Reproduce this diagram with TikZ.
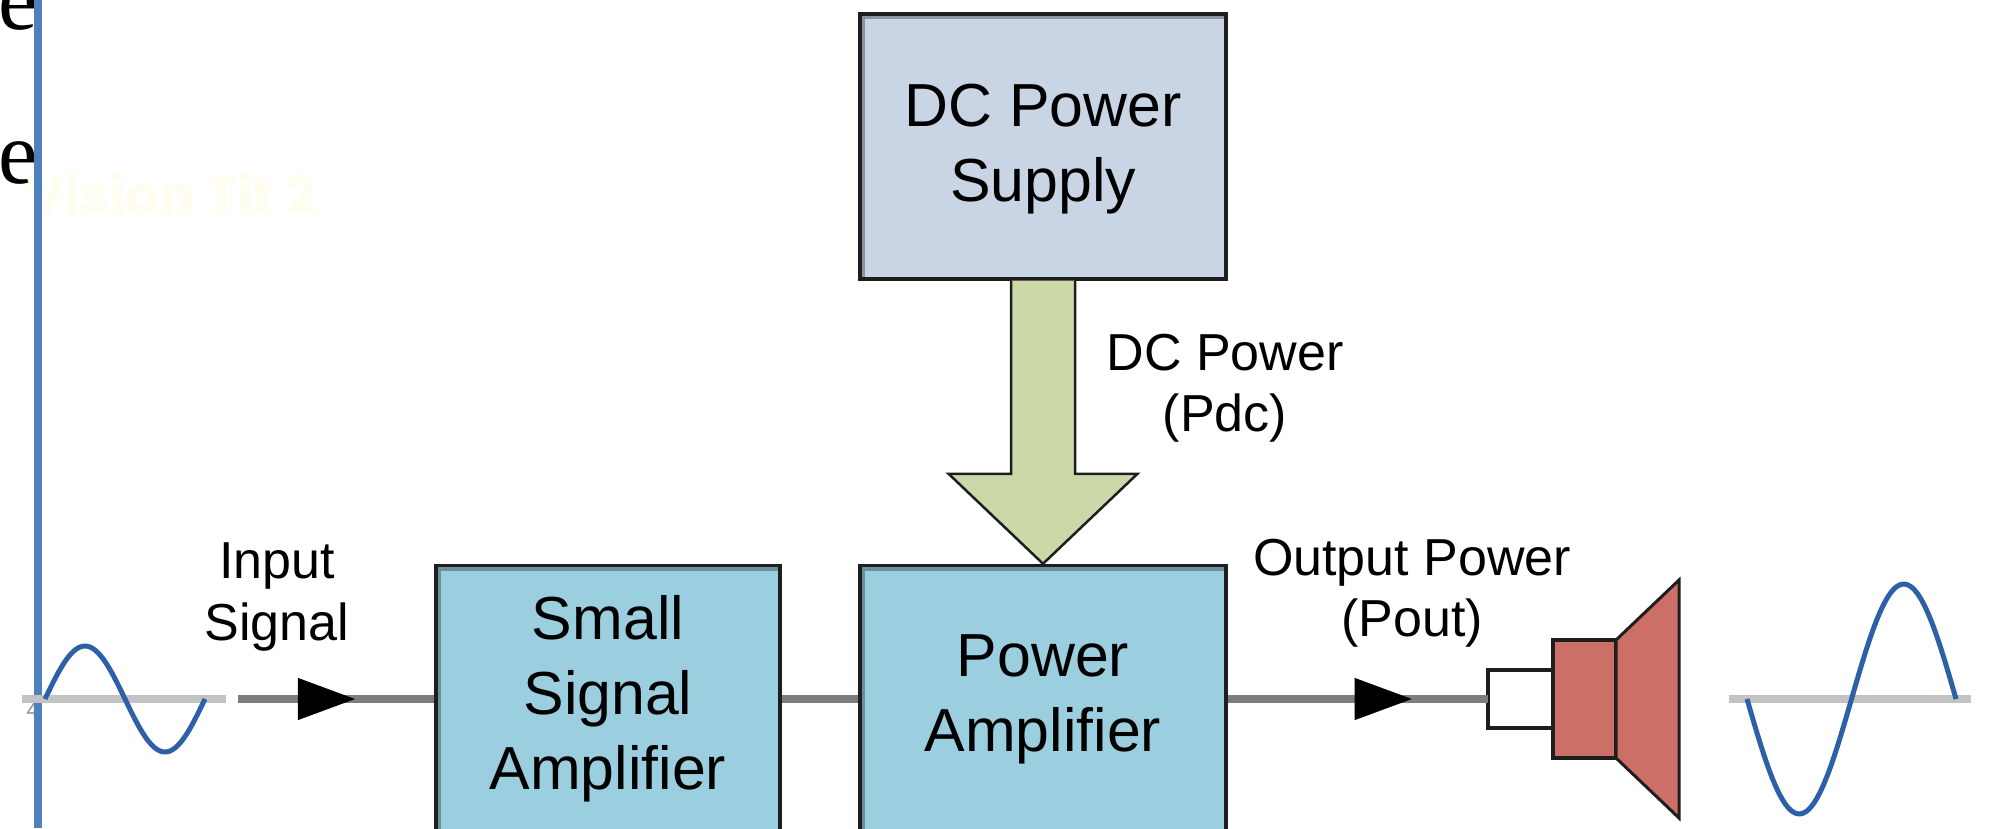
\documentclass[tikz,border=0pt]{standalone}
\usepackage{xcolor}
\usepackage{fontspec}
\setmainfont{Liberation Sans}
\newfontfamily\serifpart{Liberation Serif}
\newfontfamily\visionfont{Poppins}
\usepackage{tikz}
\usetikzlibrary{arrows.meta, positioning, calc, decorations.markings}
\definecolor{myblue}{RGB}{79,129,189}
\definecolor{mysine}{RGB}{46,96,168}
\definecolor{myaxis}{RGB}{195,195,195}
\definecolor{mywire}{RGB}{125,125,125}
\definecolor{myedge}{RGB}{30,30,30}
\definecolor{hdrsupply}{RGB}{201,213,229}
\definecolor{hdramp}{RGB}{155,207,223}
\definecolor{hdrpower}{RGB}{203,217,169}
\definecolor{hdrspeaker}{RGB}{204,111,102}
\definecolor{hdrvision}{RGB}{255,252,240}
\tikzset{
  block/.style={rectangle, draw=myedge, line width=0.35mm, inner sep=0pt,
    align=center, font=\fontsize{17.3}{21.3}\selectfont,
    path picture={\draw[black, opacity=0.3, line width=1mm]
      (path picture bounding box.south west) -- (path picture bounding box.north west)
      -- (path picture bounding box.north east);}},
  amp/.style={block, fill=hdramp, minimum height=2.67cm},
  tag/.style={align=center, inner sep=0pt, font=\fontsize{14.8}{17.5}\selectfont},
  wire/.style={color=mywire, line width=0.8mm},
  midarrow/.style={postaction={decorate, decoration={markings,
    mark=at position #1 with {\arrow[black]{Triangle[length=5.8mm,width=4mm]}}}}},
  axisline/.style={color=myaxis, line width=0.8mm},
  sine/.style={color=mysine, line width=0.5mm, line join=round},
  speaker/.style={rectangle, draw=myedge, line width=0.35mm, inner sep=0pt, outer sep=0pt},
  stray/.style={anchor=base west, inner sep=0pt, font=\serifpart\fontsize{25.3}{30}\selectfont}
}
\begin{document}
\begin{tikzpicture}
  \useasboundingbox (0,0) rectangle (19.9,8.28);
  \clip (0,0) rectangle (19.9,8.28);
  % page leftovers
  \node[stray] (ea) at (-0.02,7.98) {e};
  \node[stray] (eb) at (-0.02,6.44) {e};
  \node[anchor=base west, inner sep=0pt, text=hdrvision, font=\visionfont\bfseries\fontsize{15}{18}\selectfont]
    (vision) at (0.26,6.14) {Vision Tit 2};
  \node[anchor=base west, inner sep=0pt, text=black!45, font=\fontsize{6}{7}\selectfont]
    (stray4) at (0.26,1.11) {4};
  \draw[myblue, line width=0.8mm] (0.38,0) -- (0.38,8.28);
  % blocks
  \node[block, fill=hdrsupply, minimum width=3.66cm, minimum height=2.65cm, text depth=0.8mm] (dcsupply) at (10.43,6.815) {DC Power\\Supply};
  \node[amp, minimum width=3.44cm] (smallamp) at (6.08,1.29) {Small\\Signal\\Amplifier};
  \node[amp, minimum width=3.66cm] (poweramp) at (10.43,1.29) {Power\\Amplifier};
  % DC power arrow
  \draw[draw=myedge, line width=0.25mm, fill=hdrpower, line join=miter]
    ($(dcsupply.south)+(-0.32,0)$) -- ++(0,-1.93) -- ++(-0.625,0)
    -- (poweramp.north) -- ($(dcsupply.south)+(0.945,-1.93)$) -- ++(-0.625,0)
    -- ($(dcsupply.south)+(0.32,0)$);
  \node[tag] (dclabel) at (12.25,4.40) {DC Power\\(Pdc)};
  % input side
  \coordinate (axisa) at (0.22,1.29);
  \coordinate (axisb) at (2.26,1.29);
  \coordinate (wirein) at (2.38,1.29);
  \draw[axisline] (axisa) -- (axisb);
  \draw[sine] plot[domain=0:360, samples=61, smooth] ({0.45+\x*1.6/360}, {1.29+0.53*sin(\x)});
  \node[tag] (inlabel) at (2.77,2.31) {Input\\Signal};
  \draw[wire, midarrow=0.60] (wirein) -- (smallamp);
  \draw[wire] (smallamp) -- (poweramp);
  % output side
  \node[speaker, fill=white, minimum width=0.65cm, minimum height=0.58cm] (coil) at (15.205,1.29) {};
  \node[speaker, fill=hdrspeaker, minimum width=0.63cm, minimum height=1.18cm, right=0pt of coil] (magnet) {};
  \draw[draw=myedge, line width=0.3mm, fill=hdrspeaker]
    (magnet.north east) -- (16.79,2.48) -- (16.79,0.10) -- (magnet.south east) -- cycle;
  \draw[wire, midarrow=0.71] (poweramp) -- (coil);
  \node[tag] (outlabel) at (14.12,2.35) {Output Power\\(Pout)};
  \coordinate (axisc) at (17.29,1.29);
  \coordinate (axisd) at (19.71,1.29);
  \draw[axisline] (axisc) -- (axisd);
  \draw[sine] plot[domain=0:360, samples=61, smooth] ({17.47+\x*2.09/360}, {1.29-1.15*sin(\x)});
\end{tikzpicture}
\end{document}
